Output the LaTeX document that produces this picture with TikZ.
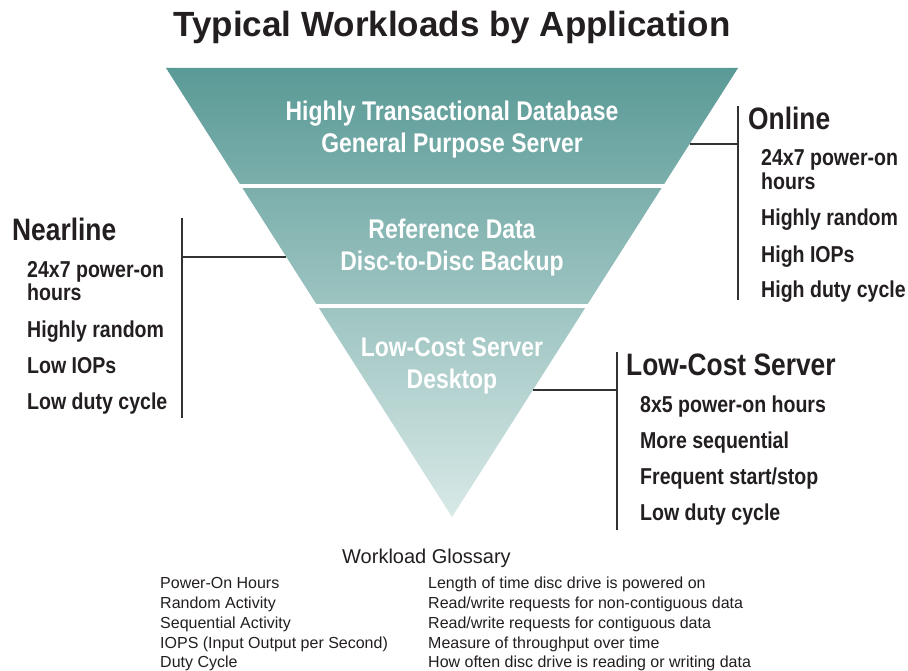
\documentclass[tikz,border=0pt]{standalone}
\usepackage{fontspec}
\setmainfont{Liberation Sans}
\newfontfamily\condfont[FakeStretch=0.85]{Liberation Sans}
\definecolor{ink}{RGB}{35,31,32}
\definecolor{linegray}{RGB}{50,50,50}
\definecolor{tealtop}{RGB}{90,154,150}
\definecolor{tealbot}{RGB}{216,233,231}
\begin{document}
\begin{tikzpicture}[x=1pt,y=-1pt,
  maintitle/.style={font=\fontsize{35}{40}\selectfont\bfseries, text=ink, anchor=base, inner sep=0},
  band/.style={font=\condfont\bfseries\fontsize{27}{32}\selectfont, text=white, anchor=base, inner sep=0},
  head/.style={font=\condfont\bfseries\fontsize{31}{34}\selectfont, text=ink, anchor=base west, inner sep=0},
  item/.style={font=\condfont\bfseries\fontsize{23}{26}\selectfont, text=ink, anchor=base west, inner sep=0},
  gtitle/.style={font=\fontsize{20}{23}\selectfont, text=ink, anchor=base west, inner sep=0},
  gterm/.style={font=\fontsize{16}{19}\selectfont, text=ink, anchor=base west, inner sep=0},
  leader/.style={draw=linegray, line width=1.1pt},
  gap/.style={draw=white, line width=4.5pt},
]
\useasboundingbox (0,0) rectangle (908,671);
\fill[white] (0,0) rectangle (908,671);

% title
\node[maintitle] (title) at (452,37) {Typical Workloads by Application};

% inverted triangle
\shade[top color=tealtop, bottom color=tealbot] (166,68) -- (738,68) -- (452,517) -- cycle;
\draw[gap] (232,185.8) -- (672,185.8);
\draw[gap] (308,306) -- (596,306);

% band texts
\node[band] (b1a) at (452,121) {Highly Transactional Database};
\node[band] (b1b) at (452,153) {General Purpose Server};
\node[band] (b2a) at (452,239) {Reference Data};
\node[band] (b2b) at (452,271) {Disc-to-Disc Backup};
\node[band] (b3a) at (452,356) {Low-Cost Server};
\node[band] (b3b) at (452,388) {Desktop};

% Online
\coordinate (onEdge) at (689.6,144);
\coordinate (onBar) at (738,144);
\coordinate (onTop) at (738,106);
\coordinate (onBot) at (738,300);
\draw[leader] (onTop) -- (onBot);
\draw[leader] (onEdge) -- (onBar);
\node[head] (onH) at (748,130) {Online};
\node[item] (on1) at (761,166) {24x7 power-on};
\node[item] (on2) at (761,190) {hours};
\node[item] (on3) at (761,226) {Highly random};
\node[item] (on4) at (761,262) {High IOPs};
\node[item] (on5) at (761,298) {High duty cycle};

% Nearline
\coordinate (neEdge) at (286.4,257);
\coordinate (neBar) at (182,257);
\coordinate (neTop) at (182,218);
\coordinate (neBot) at (182,418);
\draw[leader] (neTop) -- (neBot);
\draw[leader] (neEdge) -- (neBar);
\node[head] (neH) at (12,241) {Nearline};
\node[item] (ne1) at (27,278) {24x7 power-on};
\node[item] (ne2) at (27,301) {hours};
\node[item] (ne3) at (27,337) {Highly random};
\node[item] (ne4) at (27,373) {Low IOPs};
\node[item] (ne5) at (27,409) {Low duty cycle};

% Low-Cost Server
\coordinate (lcEdge) at (532.9,390);
\coordinate (lcBar) at (617,390);
\coordinate (lcTop) at (617,352);
\coordinate (lcBot) at (617,530);
\draw[leader] (lcTop) -- (lcBot);
\draw[leader] (lcEdge) -- (lcBar);
\node[head] (lcH) at (626,375) {Low-Cost Server};
\node[item] (lc1) at (640,412) {8x5 power-on hours};
\node[item] (lc2) at (640,448) {More sequential};
\node[item] (lc3) at (640,484) {Frequent start/stop};
\node[item] (lc4) at (640,520) {Low duty cycle};

% Glossary
\node[gtitle] (gT) at (342,563) {Workload Glossary};
\node[gterm] (g1) at (160,588) {Power-On Hours};
\node[gterm] (g2) at (160,608) {Random Activity};
\node[gterm] (g3) at (160,628) {Sequential Activity};
\node[gterm] (g4) at (160,648) {IOPS (Input Output per Second)};
\node[gterm] (g5) at (160,667) {Duty Cycle};
\node[gterm] (d1) at (428,588) {Length of time disc drive is powered on};
\node[gterm] (d2) at (428,608) {Read/write requests for non-contiguous data};
\node[gterm] (d3) at (428,628) {Read/write requests for contiguous data};
\node[gterm] (d4) at (428,648) {Measure of throughput over time};
\node[gterm] (d5) at (428,667) {How often disc drive is reading or writing data};
\end{tikzpicture}
\end{document}
